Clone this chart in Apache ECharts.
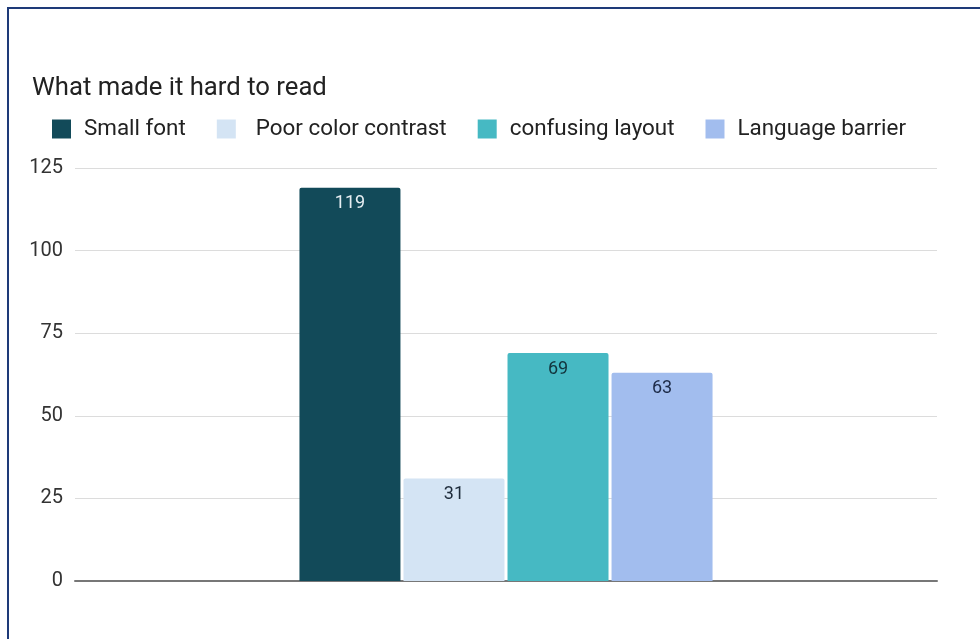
<!DOCTYPE html>
<html>
<head>
<meta charset="utf-8">
<script src="https://cdn.jsdelivr.net/npm/echarts@6/dist/echarts.min.js"></script>
<style>
  html, body { margin: 0; padding: 0; background: #fff; }
  #wrap { position: relative; width: 980px; height: 639px; overflow: hidden; }
  #chart { position: absolute; left: 0; top: 0; width: 980px; height: 639px; }
  #frame { position: absolute; left: 7px; top: 7px; width: 990px; height: 660px;
           border-top: 2px solid #1e3a78; border-left: 2px solid #1e3a78; pointer-events: none; }
</style>
</head>
<body>
<div id="wrap">
  <div id="chart"></div>
  <div id="frame"></div>
</div>
<script>
const titleText = 'What made it hard to read';
const categories = [''];
const seriesNames = ['Small font', 'Poor color contrast', 'confusing layout', 'Language barrier'];
const smallFont = [119];
const poorContrast = [31];
const confusingLayout = [69];
const languageBarrier = [63];
const seriesValues = [smallFont, poorContrast, confusingLayout, languageBarrier];
const colors = ['#124a59', '#d4e4f4', '#46b9c3', '#a2bdee'];
const labelColors = ['#e6eef2', '#1d2b3a', '#12343c', '#1d2b48'];
const legendTextPad = [8, 15, 8, 8];

const chart = echarts.init(document.getElementById('chart'));
chart.setOption({
  animation: false,
  backgroundColor: '#fff',
  title: {
    text: titleText, left: 27, top: 71,
    textStyle: { fontFamily: 'Roboto', fontSize: 25.7, fontWeight: 'normal', color: '#222' }
  },
  legend: {
    left: 47, top: 113, itemWidth: 19, itemHeight: 19, itemGap: 31,
    icon: 'rect',
    textStyle: { fontFamily: 'Roboto', fontSize: 22.4, color: '#222', padding: [0, 0, 0, 8] },
    data: seriesNames.map((n, i) => ({ name: n, textStyle: { padding: [0, 0, 0, legendTextPad[i]] } }))
  },
  grid: { left: 75, right: 43, top: 168, bottom: 58, containLabel: false },
  xAxis: {
    type: 'category', data: categories,
    axisLine: { show: true, lineStyle: { color: '#777', width: 2 } },
    axisTick: { show: false }, axisLabel: { show: false }
  },
  yAxis: {
    type: 'value', min: 0, max: 125, interval: 25,
    axisLine: { show: false }, axisTick: { show: false },
    axisLabel: { fontFamily: 'Roboto', fontSize: 20, color: '#333', margin: 12 },
    splitLine: { lineStyle: { color: '#dcdcdc', width: 1 } }
  },
  series: seriesNames.map((name, i) => ({
    name, type: 'bar', data: seriesValues[i],
    barWidth: 101, barGap: '3%',
    itemStyle: { color: colors[i], borderRadius: [2, 2, 0, 0] },
    label: {
      show: true, position: 'insideTop', distance: 7,
      fontFamily: 'Roboto', fontSize: 18, color: labelColors[i]
    }
  }))
});
</script>
</body>
</html>
